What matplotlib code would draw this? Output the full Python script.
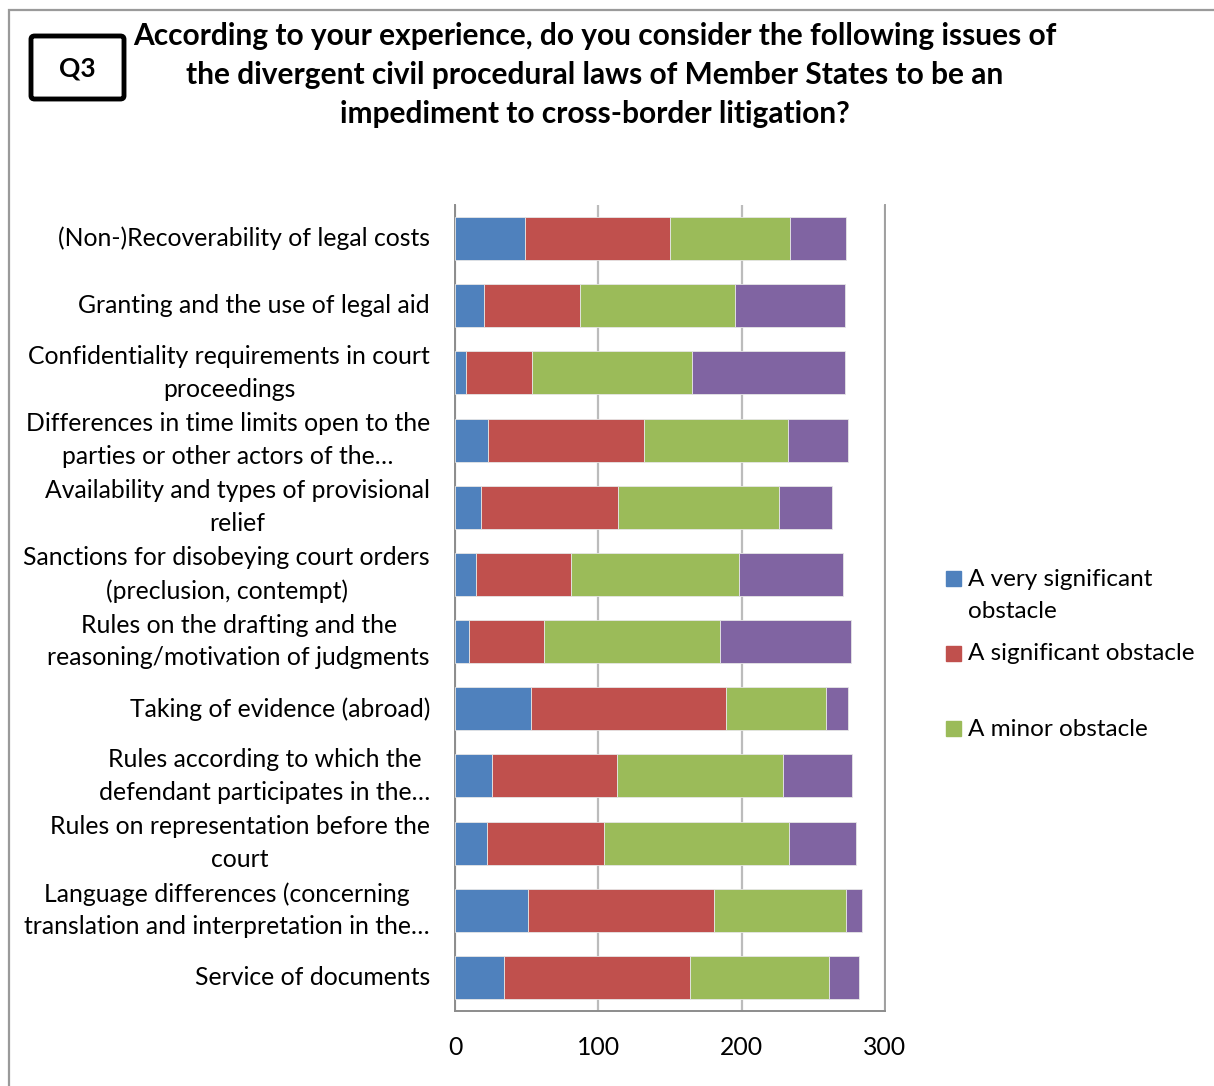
import matplotlib
matplotlib.use("Agg")
import matplotlib.pyplot as plt
from matplotlib.patches import Rectangle, FancyBboxPatch
import numpy as np

plt.rcParams['font.family'] = ['Lato', 'DejaVu Sans']

categories = [
    "(Non-)Recoverability of legal costs",
    "Granting and the use of legal aid",
    "Confidentiality requirements in court\nproceedings",
    "Differences in time limits open to the\nparties or other actors of the\u2026",
    "Availability and types of provisional\nrelief",
    "Sanctions for disobeying court orders\n(preclusion, contempt)",
    "Rules on the drafting and the\nreasoning/motivation of judgments",
    "Taking of evidence (abroad)",
    "Rules according to which the\ndefendant participates in the\u2026",
    "Rules on representation before the\ncourt",
    "Language differences (concerning\ntranslation and interpretation in the\u2026",
    "Service of documents",
]

very_significant = [49, 20, 8, 23, 18, 15, 10, 53, 26, 22, 51, 34]
significant      = [101, 67, 46, 109, 96, 66, 52, 136, 87, 82, 130, 130]
minor            = [84, 108, 111, 100, 112, 117, 123, 70, 116, 129, 92, 97]
not_obstacle     = [39, 77, 107, 42, 37, 73, 91, 15, 48, 47, 11, 21]

series_labels = ["A very significant\nobstacle", "A significant obstacle", "A minor obstacle"]
colors = ["#4F81BD", "#C0504D", "#9BBB59", "#8064A2"]
x_ticks = [0, 100, 200, 300]

W, H = 1214, 1086
fig = plt.figure(figsize=(W / 100, H / 100), dpi=100)

# outer chart frame
fig.patches.append(Rectangle((9 / W, -0.1), 1.2, (H - 10) / H + 0.1,
                             transform=fig.transFigure, fill=False,
                             edgecolor="#9a9a9a", linewidth=1.6, clip_on=False))

# question badge
fig.patches.append(FancyBboxPatch((31 / W, 1 - 99 / H), 93 / W, 63 / H,
                                  boxstyle="round,pad=0,rounding_size=0.003",
                                  transform=fig.transFigure, fill=False,
                                  edgecolor="black", linewidth=3.5))
fig.text(77 / W, 1 - 68 / H, "Q3", ha="center", va="center",
         fontsize=19, fontweight="bold")

title_lines = [
    "According to your experience, do you consider the following issues of",
    "the divergent civil procedural laws of Member States to be an",
    "impediment to cross-border litigation?",
]
for i, line in enumerate(title_lines):
    fig.text(595 / W, 1 - (36 + 39 * i) / H, line, ha="center", va="center",
             fontsize=21.5, fontweight="bold")

ax = fig.add_axes([455 / W, 1 - 1011 / H, 430 / W, 806 / H])
y = np.arange(len(categories))
data = [very_significant, significant, minor, not_obstacle]
left = np.zeros(len(categories))
for vals, col in zip(data, colors):
    ax.barh(y, vals, left=left, height=0.64, color=col,
            edgecolor="#e6e6e6", linewidth=0.6, zorder=3)
    left += np.array(vals)

ax.set_xlim(0, 300)
ax.set_ylim(len(categories) - 0.5, -0.5)
ax.set_xticks(x_ticks)
ax.set_xticklabels([str(t) for t in x_ticks], fontsize=17.8)
ax.set_yticks(y)
ax.set_yticklabels(categories, fontsize=17.8, linespacing=1.5)
for lbl in ax.get_yticklabels():
    lbl.set_multialignment("center")
    lbl.set_verticalalignment("center")
ax.tick_params(axis="y", length=0, pad=18)
ax.tick_params(axis="x", length=0, pad=18)
ax.xaxis.grid(True, color="#bcbcbc", linewidth=1.6, zorder=0)
ax.set_axisbelow(True)
for side in ["left", "bottom"]:
    ax.spines[side].set_color("#8c8c8c")
    ax.spines[side].set_linewidth(1.4)
ax.spines["top"].set_visible(False)
ax.spines["right"].set_color("#a0a0a0")
ax.spines["right"].set_linewidth(1.4)

# legend entries
legend_y = [579, 654, 729]
for lab, col, yy in zip(series_labels, colors, legend_y):
    fig.patches.append(Rectangle((946 / W, 1 - (yy + 7) / H), 15 / W, 15 / H,
                                 transform=fig.transFigure, color=col))
    for k, part in enumerate(lab.split("\n")):
        fig.text(968 / W, 1 - (yy + 33 * k) / H, part, ha="left", va="center",
                 fontsize=17.5)

fig.savefig("out.png", dpi=100)
